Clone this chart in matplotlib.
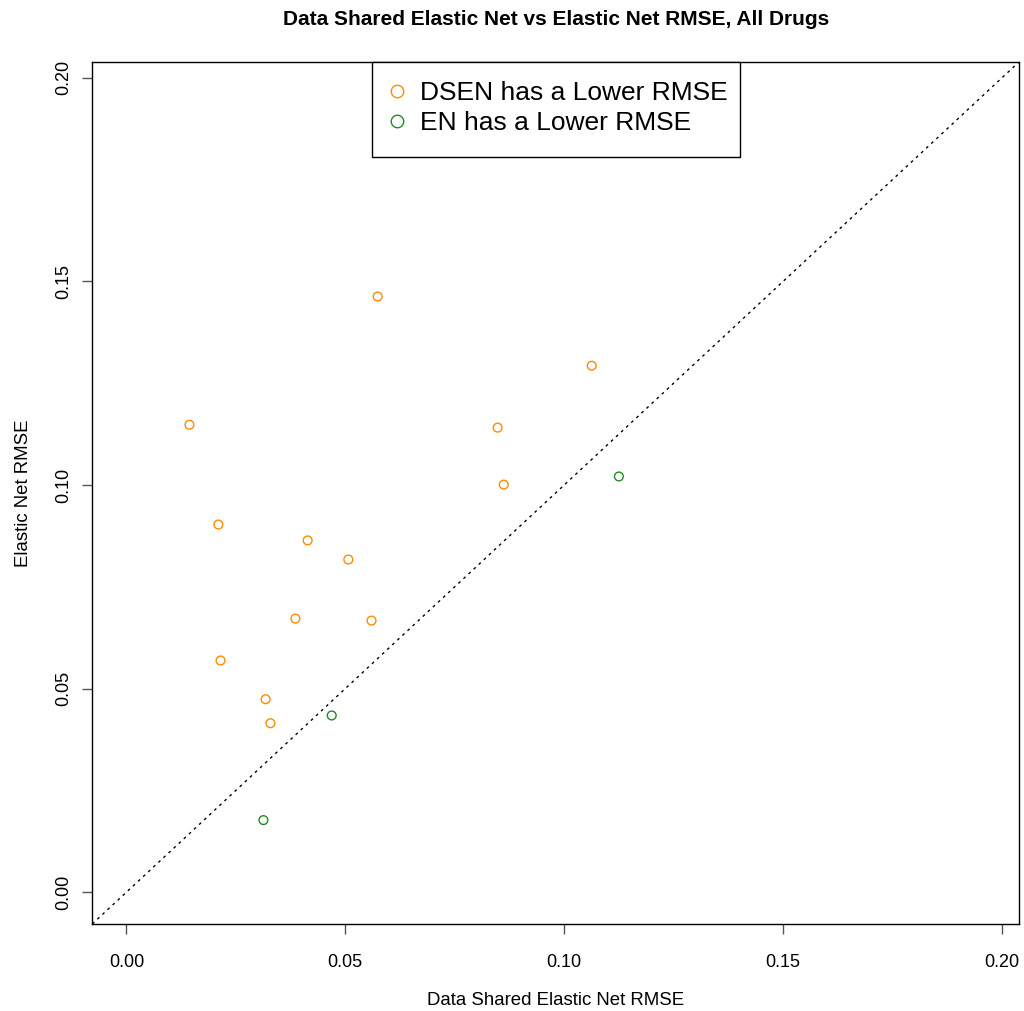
import matplotlib
matplotlib.use("Agg")
import matplotlib.pyplot as plt
from matplotlib.lines import Line2D
from matplotlib.patches import Rectangle

plt.rcParams["font.family"] = ["Liberation Sans", "DejaVu Sans"]

# DSEN lower RMSE (orange)
dsen_x = [0.0144, 0.0574, 0.1063, 0.0848, 0.0862, 0.0210, 0.0414, 0.0507,
          0.0386, 0.0560, 0.0215, 0.0318, 0.0329]
dsen_y = [0.1148, 0.1463, 0.1293, 0.1141, 0.1001, 0.0903, 0.0864, 0.0817,
          0.0672, 0.0667, 0.0569, 0.0474, 0.0415]
# EN lower RMSE (green)
en_x = [0.1125, 0.0469, 0.0313]
en_y = [0.1021, 0.0434, 0.0177]

ticks = [0.00, 0.05, 0.10, 0.15, 0.20]
tick_labels = ["0.00", "0.05", "0.10", "0.15", "0.20"]

fig = plt.figure(figsize=(10.24, 10.11), dpi=100)
ax = fig.add_axes([0.0901, 0.0861, 0.905, 0.8526])

lim = (-0.0078, 0.2039)
ax.plot(lim, lim, linestyle=(0, (2, 3)), color="black", linewidth=1.0)
ax.scatter(dsen_x, dsen_y, s=40, facecolors="none", edgecolors="darkorange", linewidths=1.0)
ax.scatter(en_x, en_y, s=40, facecolors="none", edgecolors="forestgreen", linewidths=1.0)

ax.set_xlim(lim)
ax.set_ylim(lim)
ax.set_xticks(ticks, tick_labels)
ax.set_yticks(ticks, tick_labels)
for lbl in ax.get_yticklabels():
    lbl.set_rotation(90)
    lbl.set_va("center")
ax.tick_params(direction="out", length=7.5, labelsize=13, width=1, color="#555555")
ax.tick_params(axis="x", pad=14)
ax.tick_params(axis="y", pad=7)
for sp in ax.spines.values():
    sp.set_linewidth(1.0)

ax.set_xlabel("Data Shared Elastic Net RMSE", fontsize=13.4, labelpad=15)
ax.set_ylabel("Elastic Net RMSE", fontsize=13.4, labelpad=17)
# title is centred over the plot region, not the figure
fig.suptitle("Data Shared Elastic Net vs Elastic Net RMSE, All Drugs",
             fontsize=15, fontweight="bold", x=0.543, y=0.990)

# legend frame drawn separately so the padding matches
ax.add_patch(Rectangle((0.3018, 0.8898), 0.3971, 0.1102, transform=ax.transAxes,
                       facecolor="white", edgecolor="black", linewidth=1.0,
                       zorder=4, clip_on=False))
handles = [
    Line2D([], [], marker="o", linestyle="none", markerfacecolor="none",
           markeredgecolor="darkorange", markersize=9, label="DSEN has a Lower RMSE"),
    Line2D([], [], marker="o", linestyle="none", markerfacecolor="none",
           markeredgecolor="forestgreen", markersize=9, label="EN has a Lower RMSE"),
]
leg = ax.legend(handles=handles, loc="upper left", bbox_to_anchor=(0.3115, 0.978),
                fontsize=19, frameon=False, borderpad=0, borderaxespad=0,
                handletextpad=0.27, labelspacing=0.24, handlelength=1.2)
leg.set_zorder(5)

fig.savefig("out.png", dpi=100)
